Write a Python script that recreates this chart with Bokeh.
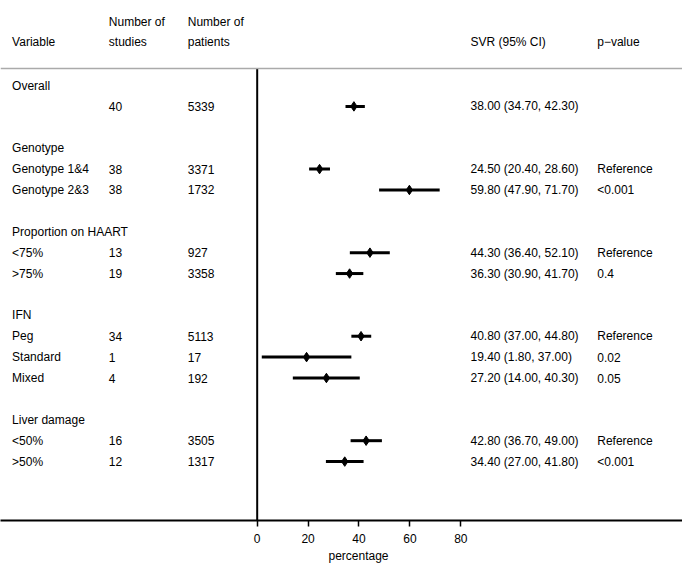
import math
from bokeh.plotting import figure
from bokeh.models import Range1d, FixedTicker, Span, ColumnDataSource, Title
from bokeh.core.properties import value
from bokeh.embed import file_html
from bokeh.resources import INLINE

nan = float("nan")

# ---- data (one entry per row, top to bottom) ----
labels = ["Overall", "", "", "Genotype", "Genotype 1&4", "Genotype 2&3", "",
          "Proportion on HAART", "<75%", ">75%", "", "IFN", "Peg", "Standard",
          "Mixed", "", "Liver damage", "<50%", ">50%"]
studies = ["", "40", "", "", "38", "38", "", "", "13", "19", "", "", "34", "1",
           "4", "", "", "16", "12"]
patients = ["", "5339", "", "", "3371", "1732", "", "", "927", "3358", "", "",
            "5113", "17", "192", "", "", "3505", "1317"]
est = [nan, 38.0, nan, nan, 24.5, 59.8, nan, nan, 44.3, 36.3, nan, nan, 40.8,
       19.4, 27.2, nan, nan, 42.8, 34.4]
lower = [nan, 34.7, nan, nan, 20.4, 47.9, nan, nan, 36.4, 30.9, nan, nan, 37.0,
         1.8, 14.0, nan, nan, 36.7, 27.0]
upper = [nan, 42.3, nan, nan, 28.6, 71.7, nan, nan, 52.1, 41.7, nan, nan, 44.8,
         37.0, 40.3, nan, nan, 49.0, 41.8]
pvals = ["", "", "", "", "Reference", "<0.001", "", "", "Reference", "0.4", "",
         "", "Reference", "0.02", "0.05", "", "", "Reference", "<0.001"]
x_ticks = [0, 20, 40, 60, 80]
axis_title = "percentage"

rows = list(range(1, len(labels) + 1))
svr = ["" if math.isnan(e) else f"{e:.2f} ({l:.2f}, {u:.2f})"
       for e, l, u in zip(est, lower, upper)]

FONT = "Liberation Sans"
FS = "12px"
Y_BOTTOM = 21.82

p = figure(width=682, height=565, output_backend="svg", toolbar_location=None,
           x_range=Range1d(-100.86, 167.11), y_range=Range1d(Y_BOTTOM, -3.069),
           min_border_left=0, min_border_right=0, min_border_top=0,
           min_border_bottom=45)
p.outline_line_color = None
p.xgrid.visible = False
p.ygrid.visible = False
p.yaxis.visible = False
p.background_fill_color = "white"

ax = p.xaxis[0]
ax.ticker = FixedTicker(ticks=x_ticks)
ax.axis_line_width = 2
ax.axis_line_color = "black"
ax.major_tick_line_width = 1.5
ax.major_tick_line_color = "black"
ax.major_tick_in = 0
ax.major_tick_out = 6
ax.minor_tick_line_color = None
ax.major_label_text_font = FONT
ax.major_label_text_font_size = FS
ax.major_label_text_color = "black"
ax.major_label_standoff = 7

# axis title, centred under the 0-80 scale
p.add_layout(Title(text=axis_title, align="left", offset=328,
                   text_font=FONT, text_font_size=FS,
                   text_font_style="normal", text_color="black",
                   standoff=2), "below")

# top separator line and zero line
p.add_layout(Span(location=0.186, dimension="width", line_color="#aaaaaa",
                  line_width=1.5))
p.segment(x0=[0], y0=[0.186], x1=[0], y1=[Y_BOTTOM], line_color="black",
          line_width=2)

# columns of text
col_x = {"var": -96.3, "stu": -58.3, "pat": -27.3, "svr": 83.8, "pv": 133.6}

def add_text(xs, ys, texts):
    p.text(x=xs, y=ys, text=texts, text_font=value(FONT),
           text_font_size=FS, text_color="black", text_align="left",
           text_baseline="middle")

add_text([col_x["var"]] * len(rows), rows, labels)
add_text([col_x["stu"]] * len(rows), rows, studies)
add_text([col_x["pat"]] * len(rows), rows, patients)
add_text([col_x["svr"]] * len(rows), rows, svr)
add_text([col_x["pv"]] * len(rows), rows, pvals)

# headers
add_text([col_x["var"], col_x["stu"], col_x["stu"], col_x["pat"], col_x["pat"],
          col_x["svr"], col_x["pv"]],
         [-1.06, -2.02, -1.06, -2.02, -1.06, -1.06, -1.06],
         ["Variable", "Number of", "studies", "Number of", "patients",
          "SVR (95% CI)", "p\u2212value"])

# estimates with CI
src = ColumnDataSource(dict(y=rows, est=est, lo=lower, hi=upper))
p.segment(x0="lo", y0="y", x1="hi", y1="y", source=src, line_color="black",
          line_width=3)
p.scatter(x="est", y="y", source=src, marker="diamond", size=9.5,
          fill_color="black", line_color="black", line_width=1)

open("out.html", "w").write(file_html(p, INLINE))
